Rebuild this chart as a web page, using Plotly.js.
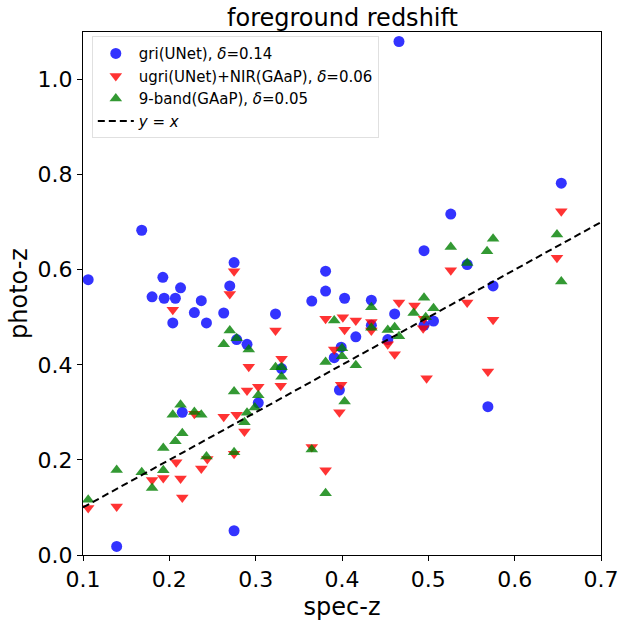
<!DOCTYPE html>
<html>
<head>
<meta charset="utf-8">
<script src="https://cdn.plot.ly/plotly-3.0.1.min.js"></script>
<style>html,body{margin:0;padding:0;background:#fff;}#chart{width:620px;height:625px;}</style>
</head>
<body>
<div id="chart"></div>
<script>
// gri(UNet)
const griX = [0.106,0.168,0.1925,0.180,0.194,0.207,0.213,0.204,0.237,0.229,0.243,0.263,0.270,0.275,0.278,0.290,0.323,0.330,0.365,0.381,0.381,0.403,0.391,0.399,0.397,0.303,0.215,0.275,0.139,0.466,0.526,0.654,0.495,0.545,0.575,0.434,0.461,0.434,0.416,0.453,0.495,0.506,0.569];
const griY = [0.579,0.683,0.584,0.543,0.540,0.540,0.562,0.488,0.535,0.510,0.488,0.509,0.566,0.615,0.453,0.443,0.507,0.392,0.534,0.597,0.555,0.540,0.415,0.437,0.347,0.320,0.300,0.051,0.018,1.080,0.717,0.782,0.640,0.611,0.566,0.536,0.507,0.483,0.459,0.453,0.483,0.492,0.312];
// ugri(UNet)+NIR(GAaP)
const ugriX = [0.204,0.275,0.270,0.323,0.292,0.330,0.329,0.290,0.303,0.381,0.401,0.403,0.391,0.399,0.263,0.278,0.229,0.287,0.275,0.244,0.208,0.237,0.193,0.180,0.213,0.215,0.139,0.106,0.365,0.381,0.397,0.654,0.526,0.649,0.545,0.466,0.484,0.416,0.434,0.434,0.495,0.494,0.453,0.461,0.575,0.498,0.569];
const ugriY = [0.516,0.597,0.549,0.472,0.396,0.413,0.356,0.346,0.354,0.497,0.500,0.474,0.432,0.358,0.291,0.295,0.297,0.260,0.213,0.202,0.195,0.182,0.162,0.158,0.161,0.121,0.102,0.099,0.227,0.178,0.300,0.723,0.599,0.625,0.531,0.531,0.525,0.493,0.490,0.472,0.497,0.477,0.443,0.422,0.495,0.372,0.386];
// 9-band(GAaP)
const nineX = [0.270,0.278,0.263,0.292,0.323,0.330,0.330,0.275,0.303,0.391,0.381,0.400,0.400,0.403,0.106,0.139,0.168,0.180,0.193,0.193,0.207,0.215,0.204,0.213,0.229,0.237,0.243,0.275,0.287,0.290,0.299,0.365,0.381,0.526,0.575,0.568,0.649,0.545,0.654,0.495,0.506,0.483,0.434,0.497,0.461,0.453,0.434,0.466,0.416];
const nineY = [0.472,0.456,0.443,0.432,0.395,0.395,0.375,0.344,0.336,0.493,0.406,0.435,0.418,0.323,0.116,0.179,0.174,0.141,0.178,0.225,0.239,0.256,0.295,0.316,0.301,0.295,0.207,0.216,0.279,0.299,0.310,0.222,0.130,0.648,0.665,0.639,0.674,0.614,0.575,0.541,0.519,0.509,0.521,0.500,0.479,0.473,0.478,0.460,0.399];
// y = x reference line
const lineX = [0.1, 0.7];
const lineY = [0.1, 0.7];

const titleText = 'foreground redshift';
const names = ["gri(UNet), <i>δ</i>=0.14", "ugri(UNet)+NIR(GAaP), <i>δ</i>=0.06", "9-band(GAaP), <i>δ</i>=0.05", "<i>y</i> = <i>x</i>"];

const traces = [
  {x: griX, y: griY, type: 'scatter', mode: 'markers', name: names[0], legendgroup: 'a',
   marker: {symbol: 'circle', size: 11, color: 'rgba(0,0,255,0.8)'}},
  {x: ugriX, y: ugriY, type: 'scatter', mode: 'markers', name: names[1], legendgroup: 'b',
   marker: {symbol: 'triangle-down', size: 11, color: 'rgba(255,0,0,0.8)'}},
  {x: nineX, y: nineY, type: 'scatter', mode: 'markers', name: names[2], legendgroup: 'c',
   marker: {symbol: 'triangle-up', size: 11, color: 'rgba(0,128,0,0.8)'}},
  {x: lineX, y: lineY, type: 'scatter', mode: 'lines', name: names[3], legendgroup: 'd',
   line: {color: 'black', width: 2, dash: '7px,4px'}}
];

const layout = {
  width: 620, height: 625,
  margin: {l: 83, r: 19, t: 32, b: 70},
  paper_bgcolor: '#fff', plot_bgcolor: '#fff',
  font: {family: 'DejaVu Sans, sans-serif', color: '#000'},
  annotations: [{text: titleText, xref: 'paper', yref: 'paper', x: 0.5, y: 1, xanchor: 'center', yanchor: 'bottom',
                 showarrow: false, font: {size: 24, color: '#000'}, yshift: -2}],
  showlegend: true,
  legend: {x: 0.017, y: 0.992, xanchor: 'left', yanchor: 'top', bgcolor: 'rgba(255,255,255,0.8)',
           bordercolor: '#e0e0e0', borderwidth: 1, font: {size: 15, color: '#000'}, tracegroupgap: 0,
           itemwidth: 36},
  xaxis: {range: [0.1, 0.7], tickvals: [0.1,0.2,0.3,0.4,0.5,0.6,0.7], tickformat: '.1f',
          ticks: 'outside', ticklen: 5, tickwidth: 1, tickcolor: '#000', showgrid: false, zeroline: false,
          showline: true, linecolor: '#000', linewidth: 1, mirror: true,
          tickfont: {size: 22}, title: {text: 'spec-z', font: {size: 24}, standoff: 6}},
  yaxis: {range: [0, 1.1], tickvals: [0,0.2,0.4,0.6,0.8,1.0], tickformat: '.1f',
          ticks: 'outside', ticklen: 5, tickwidth: 1, tickcolor: '#000', showgrid: false, zeroline: false,
          showline: true, linecolor: '#000', linewidth: 1, mirror: true,
          tickfont: {size: 22}, title: {text: 'photo-z', font: {size: 24}, standoff: 3}}
};

Plotly.newPlot('chart', traces, layout, {displayModeBar: false, staticPlot: true});
</script>
</body>
</html>
